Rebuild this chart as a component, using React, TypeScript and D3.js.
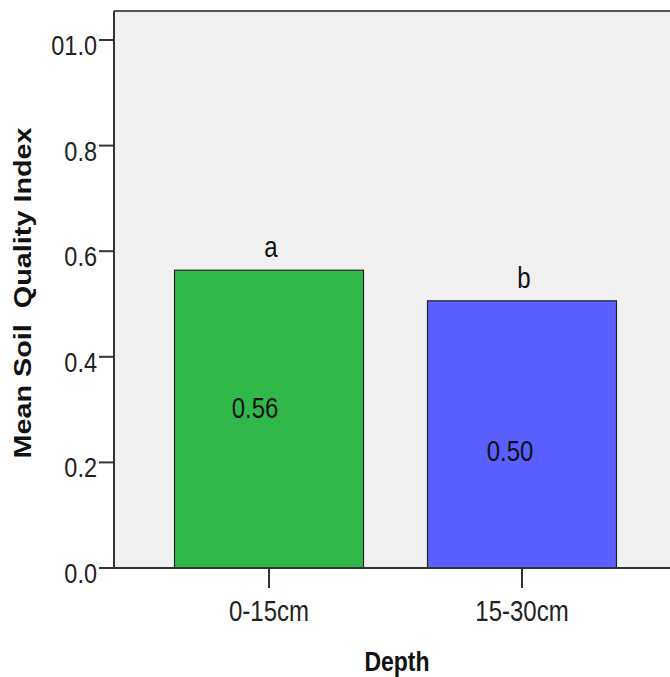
import { useEffect, useRef } from 'react';
import * as d3 from 'd3';

// Chart data
const depths = ['0-15cm', '15-30cm'];
const meanSqi = [0.564, 0.506];
const valueLabels = ['0.56', '0.50'];
const groupLetters = ['a', 'b'];
// where SPSS put the value labels inside the bars (in data units)
const labelAnchors = [0.303, 0.222];
const labelShift = [-14, -12];
const yTicks = [0, 0.2, 0.4, 0.6, 0.8, 1.0];
const yTickLabels = ['0.0', '0.2', '0.4', '0.6', '0.8', '01.0'];

const barColors = ['#30b94a', '#5a5fff'];

const WIDTH = 670;
const HEIGHT = 677;

export default function App() {
    const svgRef = useRef<SVGSVGElement>(null);

    useEffect(() => {
        if (!svgRef.current) return;
        const svg = d3.select(svgRef.current);
        svg.selectAll('*').remove();

        const plotLeft = 114;
        const plotTop = 11;
        const plotBottom = 568;
        const font = '"Liberation Sans", Arial, sans-serif';
        const stretch = 1.2; // the source image is stretched vertically

        const yScale = d3.scaleLinear().domain([0, 1]).range([plotBottom, 40]);
        const xScale = d3.scaleBand<string>()
            .domain(depths)
            .range([142.5, 648.5])
            .paddingInner(0.253)
            .paddingOuter(0.1265);

        // plot background
        svg.append('rect')
            .attr('x', plotLeft)
            .attr('y', plotTop)
            .attr('width', WIDTH - plotLeft + 10)
            .attr('height', plotBottom - plotTop)
            .attr('fill', '#f0f0f0');

        svg.append('line')
            .attr('x1', plotLeft).attr('x2', WIDTH + 5)
            .attr('y1', plotTop).attr('y2', plotTop)
            .attr('stroke', '#555').attr('stroke-width', 2);

        // bars
        svg.selectAll('.bar')
            .data(meanSqi)
            .enter()
            .append('rect')
            .attr('x', (_d, i) => xScale(depths[i])!)
            .attr('y', d => yScale(d))
            .attr('width', xScale.bandwidth())
            .attr('height', d => plotBottom - yScale(d))
            .attr('fill', (_d, i) => barColors[i])
            .attr('stroke', '#222')
            .attr('stroke-width', 1.2);

        const stretchedText = (x: number, y: number, txt: string, size: number, weight = 'normal') =>
            svg.append('text')
                .attr('transform', `translate(${x},${y}) scale(1,${stretch})`)
                .attr('text-anchor', 'middle')
                .attr('font-family', font)
                .attr('font-size', size)
                .attr('font-weight', weight)
                .attr('fill', '#111')
                .text(txt);

        // value labels in bars
        meanSqi.forEach((_d, i) => {
            const cx = xScale(depths[i])! + xScale.bandwidth() / 2 + labelShift[i];
            stretchedText(cx, yScale(labelAnchors[i]) + 10, valueLabels[i], 24);
        });

        // significance letters above bars
        meanSqi.forEach((d, i) => {
            const cx = xScale(depths[i])! + xScale.bandwidth() / 2 + 2;
            stretchedText(cx, yScale(d) - 13, groupLetters[i], 24);
        });

        // y axis
        svg.append('line')
            .attr('x1', plotLeft).attr('x2', plotLeft)
            .attr('y1', plotTop).attr('y2', plotBottom)
            .attr('stroke', '#333').attr('stroke-width', 2);

        yTicks.forEach((t, i) => {
            svg.append('line')
                .attr('x1', 99).attr('x2', plotLeft)
                .attr('y1', yScale(t)).attr('y2', yScale(t))
                .attr('stroke', '#333').attr('stroke-width', 2);
            svg.append('text')
                .attr('transform', `translate(97,${yScale(t) + 15}) scale(1,${stretch})`)
                .attr('text-anchor', 'end')
                .attr('font-family', font)
                .attr('font-size', 23.5)
                .attr('fill', '#222')
                .text(yTickLabels[i]);
        });

        // x axis
        svg.append('line')
            .attr('x1', plotLeft).attr('x2', WIDTH + 5)
            .attr('y1', plotBottom).attr('y2', plotBottom)
            .attr('stroke', '#333').attr('stroke-width', 2);

        depths.forEach(dep => {
            const cx = xScale(dep)! + xScale.bandwidth() / 2;
            svg.append('line')
                .attr('x1', cx).attr('x2', cx)
                .attr('y1', plotBottom).attr('y2', 588)
                .attr('stroke', '#333').attr('stroke-width', 2);
            stretchedText(cx, 621, dep, 24).attr('fill', '#222');
        });

        // axis titles
        stretchedText(397, 671, 'Depth', 23, 'bold');

        svg.append('text')
            .attr('transform', `translate(31,293) rotate(-90) scale(${stretch},1)`)
            .attr('text-anchor', 'middle')
            .attr('font-family', font)
            .attr('font-size', 24)
            .attr('font-weight', 'bold')
            .attr('fill', '#111')
            .style('white-space', 'pre')
            .text('Mean Soil  Quality Index');
    }, []);

    return (
        <div style={{ position: 'fixed', left: 0, top: 0, width: WIDTH, height: HEIGHT, background: '#fff' }}>
            <svg ref={svgRef} width={WIDTH} height={HEIGHT} />
        </div>
    );
}
